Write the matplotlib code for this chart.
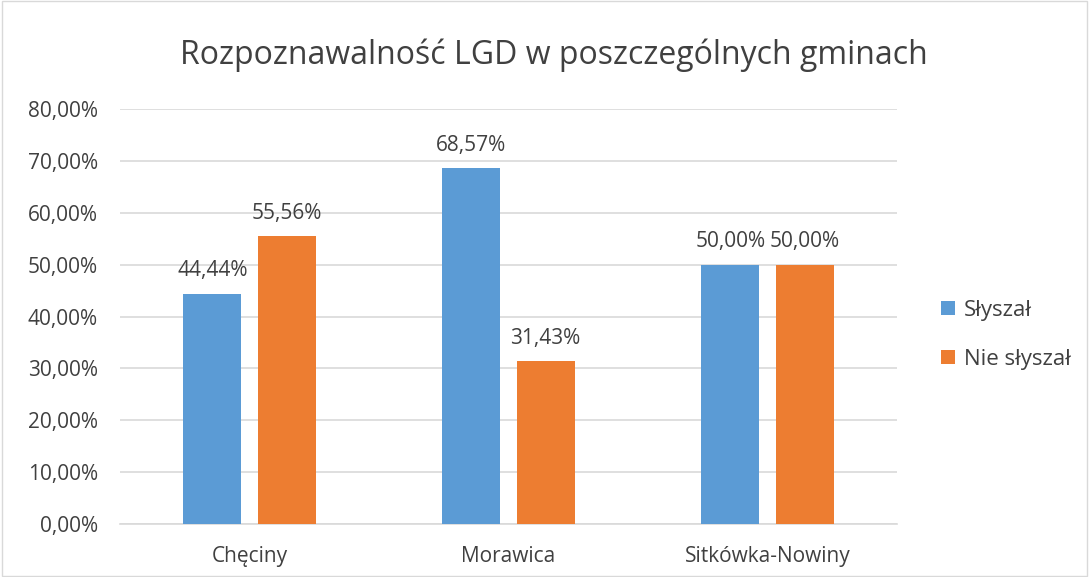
import matplotlib.pyplot as plt
import numpy as np

plt.rcParams["font.family"] = ["Open Sans", "DejaVu Sans"]

gminy = ["Chęciny", "Morawica", "Sitkówka-Nowiny"]
slyszal = [0.4444, 0.6857, 0.50]
nie_slyszal = [0.5556, 0.3143, 0.50]

fig = plt.figure(figsize=(10.89, 5.77), dpi=100)
ax = fig.add_axes([0.1102, 0.0919, 0.7135, 0.719])

x = np.arange(len(gminy))
w = 0.224
off = 0.143
b1 = ax.bar(x - off, slyszal, w, color="#5B9BD5", label="Słyszał", zorder=3)
b2 = ax.bar(x + off, nie_slyszal, w, color="#ED7D31", label="Nie słyszał", zorder=3)

for bars, vals in ((b1, slyszal), (b2, nie_slyszal)):
    for rect, v in zip(bars, vals):
        ax.text(rect.get_x() + rect.get_width() / 2, v + 0.044,
                f"{v * 100:.2f}%".replace(".", ","),
                ha="center", va="center", fontsize=15, color="#404040")

ticks = np.arange(0, 0.81, 0.1)
ax.set_xlim(-0.5, 2.5)
ax.set_ylim(0, 0.8)
ax.set_yticks(ticks)
ax.set_yticklabels([f"{t * 100:.2f}%".replace(".", ",") for t in ticks])
ax.set_xticks(x)
ax.set_xticklabels(gminy)
ax.tick_params(axis="both", length=0, labelsize=15, labelcolor="#404040")
ax.tick_params(axis="x", pad=16)
ax.tick_params(axis="y", pad=16)
ax.grid(axis="y", color="#D9D9D9", linewidth=1.2, zorder=0)
for s in ("top", "right", "left"):
    ax.spines[s].set_visible(False)
ax.spines["bottom"].set_color("#D9D9D9")
ax.spines["bottom"].set_linewidth(1.2)

fig.text(0.509, 0.905, "Rozpoznawalność LGD w poszczególnych gminach",
         ha="center", va="center", fontsize=23, color="#404040")

fig.legend(handles=[b1, b2], loc="center left", bbox_to_anchor=(0.846, 0.42),
           frameon=False, fontsize=16, labelcolor="#404040",
           handlelength=0.6, handleheight=0.6, labelspacing=1.25, handletextpad=0.4)

fig.patches.append(plt.Rectangle((0.002, 0.002), 0.996, 0.996, transform=fig.transFigure,
                                 fill=False, edgecolor="#D9D9D9", linewidth=1))

fig.savefig("out.png", dpi=100)
